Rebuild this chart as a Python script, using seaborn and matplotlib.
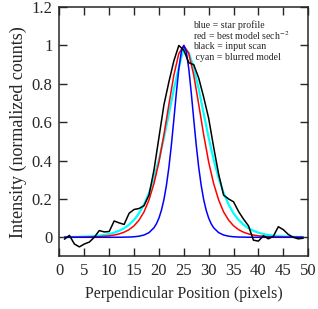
import numpy as np
import pandas as pd
import seaborn as sns
import matplotlib.pyplot as plt

# black = input scan
scan_x = list(range(1, 50))
scan_y = [-0.01, 0.01, -0.035, -0.05, -0.035, -0.025, 0.0, 0.035, 0.028, 0.03,
          0.085, 0.075, 0.067, 0.125, 0.145, 0.15, 0.165, 0.22, 0.35, 0.52,
          0.69, 0.81, 0.92, 1.0, 0.975, 0.91, 0.90, 0.83, 0.73, 0.62,
          0.47, 0.33, 0.22, 0.20, 0.185, 0.135, 0.095, 0.06, -0.015, -0.02,
          0.008, -0.008, 0.005, 0.055, 0.04, 0.015, 0.0, -0.008, -0.005]

# blue = star profile
star_x = [1, 5, 10, 12, 14, 15, 16, 17, 18, 19, 19.5, 20, 20.5, 21, 21.5, 22, 22.5, 23, 23.5, 24, 24.5,
          25, 25.5, 26, 26.5, 27, 27.5, 28, 28.5, 29, 29.5, 30, 30.5, 31, 32, 33, 34, 35, 36, 38, 40, 45, 49]
star_y = [0.0, 0.0, 0.0, 0.0003, 0.0013, 0.0028, 0.0057, 0.0118, 0.0243, 0.0497, 0.0707, 0.100, 0.141,
          0.196, 0.270, 0.364, 0.481, 0.614, 0.753, 0.879, 0.968,
          1.0, 0.968, 0.879, 0.753, 0.614, 0.481, 0.364, 0.270, 0.196, 0.141, 0.100, 0.0707, 0.0497,
          0.0243, 0.0118, 0.0057, 0.0028, 0.0013, 0.0003, 0.0, 0.0, 0.0]

# red = best model sech^-2
model_x = [1, 3, 5, 6, 7, 8, 9, 10, 11, 12, 13, 14, 15, 16, 17, 18, 19, 20, 21, 22, 23, 24,
           25, 26, 27, 28, 29, 30, 31, 32, 33, 34, 35, 36, 37, 38, 39, 40, 41, 42, 43, 44, 45, 47, 49]
model_y = [0.0002, 0.0003, 0.001, 0.0015, 0.0022, 0.0034, 0.0051, 0.0077, 0.0116, 0.0176, 0.0266,
           0.040, 0.060, 0.0898, 0.1325, 0.195, 0.280, 0.392, 0.534, 0.692, 0.845, 0.958,
           1.0, 0.958, 0.845, 0.692, 0.534, 0.392, 0.280, 0.195, 0.1325, 0.0898, 0.060, 0.040,
           0.0266, 0.0176, 0.0116, 0.0077, 0.0051, 0.0034, 0.0022, 0.0015, 0.001, 0.0004, 0.0002]

# cyan = blurred model
blur_x = model_x
blur_y = [0.001, 0.0016, 0.0032, 0.0045, 0.0064, 0.009, 0.012, 0.017, 0.024, 0.034, 0.047,
          0.066, 0.091, 0.125, 0.171, 0.231, 0.309, 0.405, 0.519, 0.644, 0.773, 0.884,
          0.99, 0.962, 0.884, 0.773, 0.644, 0.519, 0.405, 0.309, 0.231, 0.171, 0.125, 0.091,
          0.066, 0.047, 0.034, 0.024, 0.017, 0.012, 0.009, 0.0064, 0.0045, 0.0023, 0.0011]

x_ticks = list(range(0, 51, 5))
y_ticks = [0, 0.2, 0.4, 0.6, 0.8, 1.0, 1.2]
y_tick_labels = ['0', '0.2', '0.4', '0.6', '0.8', '1', '1.2']
notes = ['blue = star profile', r'red = best model sech$^{-2}$',
         'black = input scan', ' cyan = blurred model']

sns.set_style('ticks')
plt.rcParams['font.family'] = ['Liberation Serif', 'DejaVu Serif']
plt.rcParams['mathtext.fontset'] = 'stix'

fig = plt.figure(figsize=(3.18, 3.09), dpi=100)
ax = fig.add_axes([0.187, 0.17, 0.782, 0.807])

sns.lineplot(x=blur_x, y=blur_y, color='#00ffff', linewidth=1.6, ax=ax)
sns.lineplot(x=model_x, y=model_y, color='#ff0000', linewidth=1.1, ax=ax)
sns.lineplot(x=star_x, y=star_y, color='#0000ff', linewidth=1.1, ax=ax)
sns.lineplot(x=scan_x, y=scan_y, color='black', linewidth=1.1, ax=ax)

ax.set_xlim(0, 50)
ax.set_ylim(-0.1, 1.2)
ax.set_xticks(x_ticks)
ax.set_yticks(y_ticks)
ax.set_yticklabels(y_tick_labels)
ax.tick_params(direction='in', length=6, width=1, labelsize=12,
               top=True, right=True, pad=5)
for s in ax.spines.values():
    s.set_linewidth(1.1)
ax.set_xlabel('Perpendicular Position (pixels)', fontsize=11.5, labelpad=5)
ax.set_ylabel('Intensity (normalized counts)', fontsize=13, labelpad=3)

for i, t in enumerate(notes):
    ax.text(26.9, 1.107 - i * 0.056, t, fontsize=7.1, va='center', ha='left')

fig.savefig('out.png', dpi=100)
